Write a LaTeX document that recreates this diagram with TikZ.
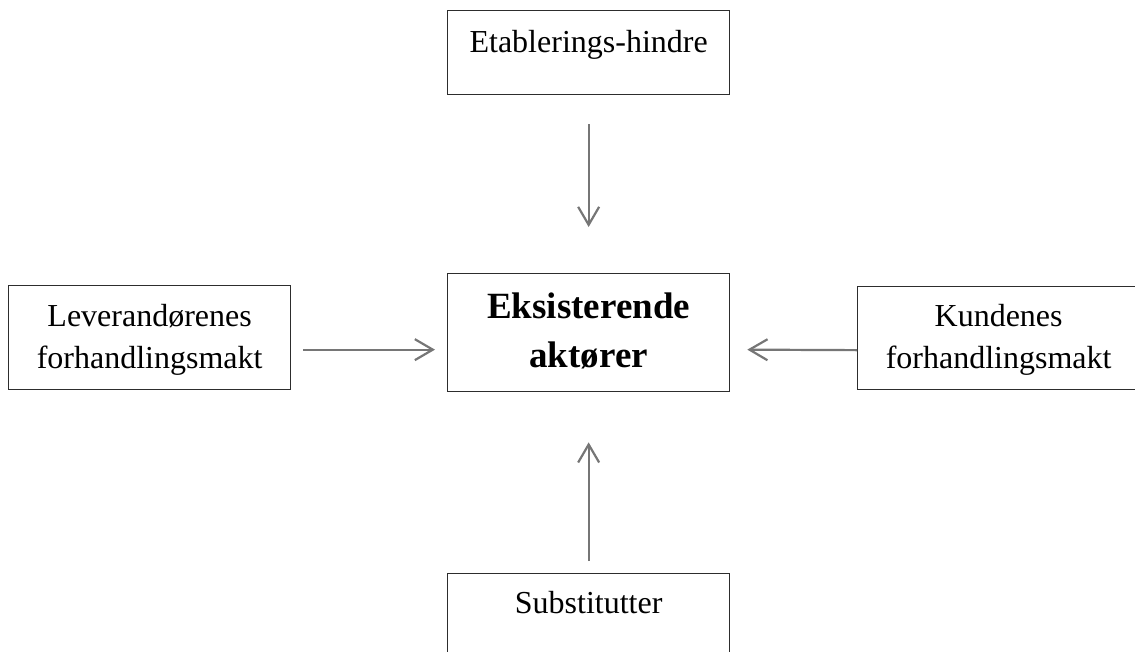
\documentclass[tikz,border=0pt]{standalone}
\usepackage{fontspec}
\setmainfont{Liberation Serif}
\usepackage{xcolor}
\definecolor{boxline}{RGB}{45, 45, 45}
\definecolor{arrowgray}{RGB}{118, 118, 118}
\usepackage{tikz}
\usetikzlibrary{arrows.meta, positioning, calc}

\begin{document}
\begin{tikzpicture}[x=1pt, y=-1pt, >={Straight Barb[length=18pt, width=21pt]},
    force/.style={draw=boxline, line width=1.3pt, anchor=north west, minimum width=282pt, inner ysep=0pt, align=center, font=\fontsize{32}{42}\selectfont},
    pil/.style={->, arrowgray, line width=2.2pt}]
    \useasboundingbox (0,0) rectangle (1135,651);
    \node[force, text height=42pt, text depth=42pt] (etab) at (447,10) {Etablerings-hindre};
    \node[force, text height=94pt, text depth=24pt, font=\fontsize{37}{49}\selectfont\bfseries] (eks) at (447,273) {Eksisterende\\aktører};
    \node[force, text height=83pt, text depth=21pt] (lev) at (8,285) {Leverandørenes\\forhandlingsmakt};
    \node[force, text height=82pt, text depth=21pt] (kund) at (857,286) {Kundenes\\forhandlingsmakt};
    \node[force, text height=40pt, text depth=60pt] (sub) at (447,573) {Substitutter};
    \draw[pil] ([yshift=-29pt]etab.south) -- ([yshift=46pt]eks.north);
    \draw[pil] ([xshift=12pt, yshift=-12pt]lev.east) -- ([xshift=-12pt, yshift=-17pt]eks.west);
    \draw[pil] ([yshift=-12pt]kund.west) -- ([xshift=17pt, yshift=-17pt]eks.east);
    \draw[pil] ([yshift=12pt]sub.north) -- ([yshift=-50pt]eks.south);
\end{tikzpicture}
\end{document}
